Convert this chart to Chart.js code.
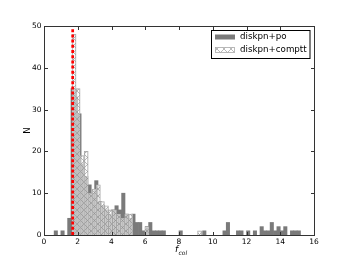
<!DOCTYPE html>
<html>
<head>
<meta charset="utf-8">
<script src="https://cdn.jsdelivr.net/npm/chart.js@4.4.1/dist/chart.umd.min.js"></script>
<style>
	html, body { margin: 0; padding: 0; background: #fff; }
	#chart_fcol { display: block; }
</style>
</head>
<body>
<canvas id="chart_fcol" width="349" height="262"></canvas>
<script>
// DATA (BIN CENTRES AND COUNTS, EMPTY BINS LEFT OUT)
var poCentres = [0.7, 1.1, 1.5, 1.7, 1.9, 2.1, 2.3, 2.5, 2.7, 2.9, 3.1, 3.3, 3.5, 3.7, 3.9, 4.1, 4.3, 4.5, 4.7, 4.9,
	5.1, 5.3, 5.5, 5.7, 5.9, 6.1, 6.3, 6.5, 6.7, 6.9, 7.1, 8.1, 9.5, 10.7, 10.9, 11.5, 11.7, 12.1, 12.5,
	12.9, 13.1, 13.3, 13.5, 13.7, 13.9, 14.1, 14.3, 14.7, 14.9, 15.1];
var poCounts = [1, 1, 4, 35, 33, 29, 17, 14, 12, 10, 13, 8, 7, 6, 5, 6, 7, 6, 10, 5,
	4, 5, 3, 3, 1, 2, 3, 1, 1, 1, 1, 1, 1, 1, 3, 1, 1, 1, 1,
	2, 1, 1, 3, 1, 2, 1, 2, 1, 1, 1];
var compttCentres = [1.78, 2.02, 2.26, 2.50, 2.74, 2.98, 3.22, 3.46, 3.70, 3.94, 4.18, 4.42, 4.66, 4.90, 5.14, 6.10, 9.22];
var compttCounts = [48, 35, 19, 20, 10, 11, 12, 8, 7, 6, 6, 5, 4, 5, 5, 2, 1];
var seriesLabels = ['diskpn+po', 'diskpn+comptt'];
var fcolStandard = 1.7;
var xTicks = [0, 2, 4, 6, 8, 10, 12, 14, 16];
var yTicks = [0, 10, 20, 30, 40, 50];

var FONT = '"DejaVu Sans", sans-serif';
var DARK = '#7a7a7a';

function toPoints(xs, ys) {
	return xs.map(function(x, i) { return {x: x, y: ys[i]}; });
}

// CROSS HATCH FOR THE COMPTT HISTOGRAM
function makeHatch(alpha) {
	var c = document.createElement('canvas');
	c.width = 7; c.height = 7;
	var g = c.getContext('2d');
	g.fillStyle = 'rgba(255,255,255,' + alpha + ')';
	g.fillRect(0, 0, 7, 7);
	g.strokeStyle = '#8c8c8c';
	g.lineWidth = 0.6;
	g.beginPath();
	g.moveTo(0, 0); g.lineTo(7, 7);
	g.moveTo(7, 0); g.lineTo(0, 7);
	g.stroke();
	return g.createPattern(c, 'repeat');
}
var hatch = makeHatch(0.5);

// FRAME, INWARD TICKS, AXIS TITLES AND LEGEND
var framePlugin = {
	id: 'frame',
	afterDatasetsDraw: function(chart) {
		var ctx = chart.ctx, a = chart.chartArea;
		var xs = chart.scales.x, ys = chart.scales.y;
		var L = Math.round(a.left) + 0.5, R = Math.round(a.right) + 0.5;
		var T = Math.round(a.top) + 0.5, B = Math.round(a.bottom) + 0.5;
		ctx.save();
		ctx.strokeStyle = '#333';
		ctx.lineWidth = 1;
		ctx.strokeRect(L, T, R - L, B - T);
		ctx.beginPath();
		xTicks.forEach(function(v) {
			var px = Math.round(xs.getPixelForValue(v)) + 0.5;
			ctx.moveTo(px, B); ctx.lineTo(px, B - 3.5);
			ctx.moveTo(px, T); ctx.lineTo(px, T + 3.5);
		});
		yTicks.forEach(function(v) {
			var py = Math.round(ys.getPixelForValue(v)) + 0.5;
			ctx.moveTo(L, py); ctx.lineTo(L + 3.5, py);
			ctx.moveTo(R, py); ctx.lineTo(R - 3.5, py);
		});
		ctx.stroke();
		ctx.restore();
	},
	afterDraw: function(chart) {
		var ctx = chart.ctx, a = chart.chartArea;
		ctx.save();
		ctx.fillStyle = '#000';
		// Y TITLE
		ctx.translate(27.5, (a.top + a.bottom) / 2);
		ctx.rotate(-Math.PI / 2);
		ctx.font = '8.5px ' + FONT;
		ctx.textAlign = 'center';
		ctx.textBaseline = 'middle';
		ctx.fillText('N', 0, 0);
		ctx.setTransform(1, 0, 0, 1, 0, 0);
		// X TITLE f_col
		var cx = (a.left + a.right) / 2;
		ctx.textAlign = 'left';
		ctx.textBaseline = 'alphabetic';
		ctx.font = 'italic 9px ' + FONT;
		ctx.fillText('f', cx - 4, 252);
		ctx.font = 'italic 6px ' + FONT;
		ctx.fillText('col', cx - 0.5, 254.5);
		// LEGEND
		ctx.fillStyle = '#fff';
		ctx.fillRect(211.5, 30.5, 98.5, 28);
		ctx.strokeStyle = '#000';
		ctx.lineWidth = 1;
		ctx.strokeRect(211.5, 30.5, 98.5, 28);
		ctx.fillStyle = DARK;
		ctx.fillRect(215, 34.5, 20, 5);
		ctx.fillStyle = '#fff';
		ctx.fillRect(215, 47.5, 20, 5);
		ctx.fillStyle = makeHatch(0);
		ctx.fillRect(215, 47.5, 20, 5);
		ctx.strokeStyle = '#aaa';
		ctx.lineWidth = 0.8;
		ctx.strokeRect(215.5, 47.5, 19, 5);
		ctx.fillStyle = '#000';
		ctx.font = '8.7px ' + FONT;
		ctx.textBaseline = 'middle';
		ctx.fillText(seriesLabels[0], 240, 37);
		ctx.fillText(seriesLabels[1], 240, 50);
		ctx.restore();
	}
};

var chart1 = document.getElementById('chart_fcol').getContext('2d');
var fcolChart = new Chart(chart1, {
	type: 'bar',
	data: {
		datasets: [{
			type: 'line',
			label: 'f_col = 1.7',
			data: [{x: fcolStandard, y: 0}, {x: fcolStandard, y: 50}],
			borderColor: '#ff0000',
			borderWidth: 2.7,
			borderDash: [3, 2.2],
			pointRadius: 0,
			xAxisID: 'x',
			order: 0
		}, {
			label: seriesLabels[1],
			data: toPoints(compttCentres, compttCounts),
			backgroundColor: hatch,
			borderColor: '#a8a8a8',
			borderWidth: 0.8,
			xAxisID: 'x2',
			order: 1
		}, {
			label: seriesLabels[0],
			data: toPoints(poCentres, poCounts),
			backgroundColor: DARK,
			borderWidth: 0,
			xAxisID: 'x',
			order: 2
		}]
	},
	options: {
		responsive: false,
		animation: false,
		events: [],
		grouped: false,
		barPercentage: 1,
		categoryPercentage: 1,
		layout: { padding: { top: 26, right: 35, bottom: 0, left: 0 } },
		plugins: {
			legend: { display: false },
			tooltip: { enabled: false }
		},
		scales: {
			x: {
				type: 'linear',
				offset: false,
				min: 0,
				max: 16,
				grid: { display: false, drawTicks: false, offset: false },
				border: { display: false },
				ticks: { stepSize: 2, padding: 2.5, color: '#000', font: { family: FONT, size: 7.5 } },
				afterFit: function(s) { s.height = 27; }
			},
			x2: {
				type: 'linear',
				display: false,
				offset: false,
				grid: { offset: false },
				min: 0,
				max: 16
			},
			y: {
				min: 0,
				max: 50,
				grid: { display: false, drawTicks: false },
				border: { display: false },
				ticks: { stepSize: 10, padding: 2.5, color: '#000', font: { family: FONT, size: 7.5 } },
				afterFit: function(s) { s.width = 44; }
			}
		}
	},
	plugins: [framePlugin]
});
</script>
</body>
</html>
